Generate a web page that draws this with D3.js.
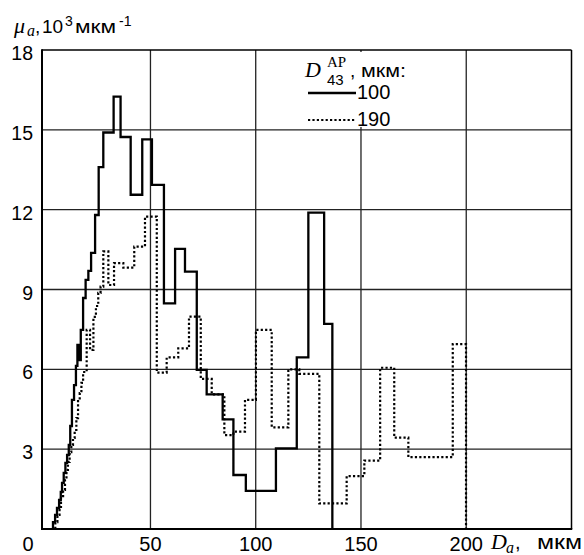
<!DOCTYPE html>
<html>
<head>
<meta charset="utf-8">
<script src="https://cdnjs.cloudflare.com/ajax/libs/d3/7.8.5/d3.min.js"></script>
<style>
  html, body { margin: 0; padding: 0; background: #fff; }
  svg { display: block; }
  text { font-family: "Liberation Sans", Arial, sans-serif; fill: #000; }
  .serif { font-family: "Liberation Serif", "DejaVu Serif", serif; }
</style>
</head>
<body>
<script>
// ---- data ----
const xTicks = [0, 50, 100, 150, 200];
const yTicks = [3, 6, 9, 12, 15, 18];
const seriesNames = ["100", "190"];

// D43 = 100 µm (solid): bin edges and heights
const solidEdges = [3.7, 4.7, 5.6, 6.6, 7.4, 8.0, 8.8, 9.6, 10.4, 11.2, 11.9, 12.7, 13.7, 14.6, 15.3, 16.2, 16.9, 18.0, 19.2, 20.5, 21.8, 23.7, 25.4, 27.6, 32.5, 35.8, 40.6, 46.1, 50.7, 56.4, 61.7, 66.4, 72.0, 76.7, 84.3, 89.4, 95.3, 109.6, 119.5, 125.0, 132.5, 136.4];
const solidValues = [0.26, 0.53, 0.79, 1.09, 1.39, 1.73, 2.11, 2.48, 2.78, 3.16, 3.87, 4.85, 5.41, 6.13, 6.92, 6.35, 7.48, 8.68, 9.36, 9.7, 10.38, 11.8, 13.6, 14.9, 16.25, 14.73, 12.56, 14.64, 12.93, 8.48, 10.53, 9.67, 5.98, 5.06, 4.12, 2.03, 1.43, 3.03, 6.45, 11.89, 7.71];

// D43 = 190 µm (dotted)
const dottedEdges = [4.8, 5.8, 6.8, 7.5, 8.5, 9.4, 10.1, 10.8, 11.6, 12.4, 13.2, 14.0, 14.8, 15.6, 16.4, 17.2, 18.0, 19.7, 21.3, 22.9, 24.1, 25.2, 26.3, 27.6, 30.0, 32.7, 37.1, 42.3, 47.4, 53.0, 57.7, 63.2, 68.3, 73.9, 79.1, 85.1, 89.4, 94.9, 100.1, 107.6, 115.5, 120.7, 130.2, 143.2, 151.6, 159.1, 165.8, 172.5, 193.6, 199.9];
const dottedValues = [0.26, 0.53, 0.83, 1.17, 1.47, 1.84, 2.22, 2.52, 2.89, 3.16, 3.42, 3.72, 4.17, 4.85, 5.11, 5.49, 5.9, 7.48, 6.73, 7.97, 8.38, 8.87, 9.11, 10.43, 9.17, 9.99, 9.82, 10.61, 11.74, 5.88, 6.45, 6.79, 7.98, 5.64, 5.06, 3.53, 3.66, 4.85, 7.48, 3.82, 6.0, 5.83, 0.96, 1.99, 2.57, 6.06, 3.43, 2.7, 6.95];

// ---- layout ----
const W = 584, H = 555;
const svg = d3.select("body").append("svg").attr("width", W).attr("height", H);

const x = d3.scaleLinear().domain([0, 250]).range([45.2, 571.5]);
const y = d3.scaleLinear().domain([0, 18]).range([529, 50]);
const frameLeft = 42;

// grid
const g = svg.append("g");
g.selectAll("line.vx").data(xTicks.filter(d => d > 0)).enter().append("line")
  .attr("x1", d => x(d)).attr("x2", d => x(d)).attr("y1", y(0)).attr("y2", y(18))
  .attr("stroke", "#222").attr("stroke-width", 1.3);
g.selectAll("line.hy").data(yTicks.filter(d => d < 18)).enter().append("line")
  .attr("x1", frameLeft).attr("x2", x(250)).attr("y1", d => y(d)).attr("y2", d => y(d))
  .attr("stroke", "#222").attr("stroke-width", 1.3);

// frame
svg.append("line").attr("x1", frameLeft).attr("x2", x(250)).attr("y1", y(18)).attr("y2", y(18)).attr("stroke", "#000").attr("stroke-width", 1.5);
svg.append("line").attr("x1", x(250)).attr("x2", x(250)).attr("y1", y(18)).attr("y2", y(0)).attr("stroke", "#000").attr("stroke-width", 1.5);
svg.append("line").attr("x1", frameLeft).attr("x2", frameLeft).attr("y1", y(18) - 0.75).attr("y2", y(0) + 1).attr("stroke", "#000").attr("stroke-width", 2);
svg.append("line").attr("x1", frameLeft - 1).attr("x2", x(250) + 0.75).attr("y1", y(0)).attr("y2", y(0)).attr("stroke", "#000").attr("stroke-width", 2.2);

// legend background (covers grid)
svg.append("rect").attr("x", 292).attr("y", 52).attr("width", 170).attr("height", 75).attr("fill", "#fff");

// step series
function stepPoints(edges, values) {
  const pts = [[edges[0], 0]];
  values.forEach((v, i) => pts.push([edges[i], v]));
  pts.push([edges[edges.length - 1], 0]);
  return pts;
}
const line = d3.line().x(d => x(d[0])).y(d => y(d[1])).curve(d3.curveStepAfter);

svg.append("path").datum(stepPoints(dottedEdges, dottedValues))
  .attr("d", line).attr("fill", "none").attr("stroke", "#000")
  .attr("stroke-width", 2.2).attr("stroke-dasharray", "2.2,2.2");
svg.append("path").datum(stepPoints(solidEdges, solidValues))
  .attr("d", line).attr("fill", "none").attr("stroke", "#000")
  .attr("stroke-width", 2.3).attr("stroke-linejoin", "miter");

// tick labels
svg.selectAll("text.xt").data(xTicks).enter().append("text")
  .attr("x", d => d === 0 ? 28 : x(d)).attr("y", 551)
  .attr("text-anchor", "middle").attr("font-size", 20).text(d => d);
svg.selectAll("text.yt").data(yTicks).enter().append("text")
  .attr("x", 33).attr("y", d => y(d) + 10)
  .attr("text-anchor", "end").attr("font-size", 19.5).text(d => d);

// y-axis title: μa, 10^3 мкм^-1
svg.append("text").attr("class", "serif").attr("x", 14).attr("y", 33).attr("font-size", 22).attr("font-style", "italic").text("μ");
svg.append("text").attr("class", "serif").attr("x", 27).attr("y", 36).attr("font-size", 16).attr("font-style", "italic").text("a");
svg.append("text").attr("x", 35).attr("y", 33).attr("font-size", 19).text(",");
svg.append("text").attr("x", 42).attr("y", 33).attr("font-size", 19).text("10");
svg.append("text").attr("x", 65).attr("y", 26).attr("font-size", 14).text("3");
svg.append("text").attr("x", 75).attr("y", 33).attr("font-size", 19)
  .attr("textLength", 41).attr("lengthAdjust", "spacingAndGlyphs").text("мкм");
svg.append("text").attr("x", 119).attr("y", 26).attr("font-size", 14).text("-1");

// x-axis title: Da, мкм
svg.append("text").attr("class", "serif").attr("x", 491).attr("y", 549).attr("font-size", 22).attr("font-style", "italic").text("D");
svg.append("text").attr("class", "serif").attr("x", 506).attr("y", 553).attr("font-size", 16).attr("font-style", "italic").text("a");
svg.append("text").attr("x", 515).attr("y", 549).attr("font-size", 20).text(",");
svg.append("text").attr("x", 537).attr("y", 549).attr("font-size", 20)
  .attr("textLength", 45).attr("lengthAdjust", "spacingAndGlyphs").text("мкм");

// legend
svg.append("text").attr("class", "serif").attr("x", 305).attr("y", 77).attr("font-size", 22).attr("font-style", "italic").text("D");
svg.append("text").attr("class", "serif").attr("x", 327).attr("y", 67).attr("font-size", 15).text("AP");
svg.append("text").attr("x", 327).attr("y", 85).attr("font-size", 15).text("43");
svg.append("text").attr("x", 350).attr("y", 77).attr("font-size", 19).text(",");
svg.append("text").attr("x", 361).attr("y", 77).attr("font-size", 19)
  .attr("textLength", 45).attr("lengthAdjust", "spacingAndGlyphs").text("мкм:");

const legY = [93, 120];
const legendStyles = [{w: 2.3, dash: null}, {w: 2.2, dash: "2.2,2.2"}];
seriesNames.forEach((name, i) => {
  const l = svg.append("line").attr("x1", 308).attr("x2", 356).attr("y1", legY[i]).attr("y2", legY[i])
    .attr("stroke", "#000").attr("stroke-width", legendStyles[i].w);
  if (legendStyles[i].dash) l.attr("stroke-dasharray", legendStyles[i].dash);
  svg.append("text").attr("x", 357).attr("y", legY[i] + 6).attr("font-size", 20).text(name);
});
</script>
</body>
</html>
